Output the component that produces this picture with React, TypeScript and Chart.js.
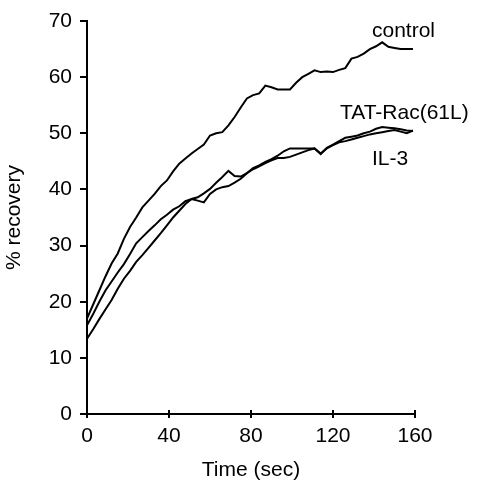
import React, { useEffect, useRef } from "react";
import { Chart, registerables } from "chart.js";

Chart.register(...registerables);

const times = [
  0, 3, 6, 9, 12, 15, 18, 21, 24, 27, 30, 33, 36, 39, 42, 45, 48, 51, 54, 57,
  60, 63, 66, 69, 72, 75, 78, 81, 84, 87, 90, 93, 96, 99, 102, 105, 108, 111,
  114, 117, 120, 123, 126, 129, 132, 135, 138, 141, 144, 147, 150, 153, 156, 159,
];

const control = [
  17.0, 19.5, 22.0, 24.5, 26.8, 28.6, 31.2, 33.3, 35.0, 36.8, 38.0, 39.2, 40.6,
  41.6, 43.2, 44.6, 45.5, 46.4, 47.2, 48.0, 49.6, 50.0, 50.2, 51.4, 52.9, 54.6,
  56.2, 56.8, 57.1, 58.5, 58.2, 57.8, 57.8, 57.8, 59.0, 60.0, 60.6, 61.2, 60.9,
  61.0, 60.9, 61.3, 61.6, 63.3, 63.6, 64.2, 65.0, 65.5, 66.2, 65.4, 65.2, 65.0,
  65.0, 65.0,
];

const tatRac = [
  15.8, 17.8, 20.0, 22.0, 23.6, 25.2, 26.7, 28.5, 30.4, 31.5, 32.6, 33.6, 34.7,
  35.5, 36.4, 37.0, 37.9, 38.3, 38.0, 37.7, 39.2, 40.0, 40.4, 40.6, 41.2, 41.9,
  42.9, 43.8, 44.3, 44.9, 45.4, 46.0, 46.8, 47.3, 47.3, 47.3, 47.3, 47.3, 46.3,
  47.4, 48.0, 48.6, 49.2, 49.4, 49.6, 50.0, 50.3, 50.8, 51.1, 51.0, 50.9, 50.7,
  50.5, 50.4,
];

const il3 = [
  13.4, 15.1, 16.9, 18.6, 20.3, 22.3, 24.1, 25.5, 27.1, 28.3, 29.6, 30.9, 32.2,
  33.6, 35.0, 36.2, 37.4, 38.3, 38.6, 39.3, 40.1, 41.2, 42.2, 43.3, 42.4, 42.3,
  42.9, 43.6, 44.1, 44.7, 45.2, 45.6, 45.6, 45.8, 46.2, 46.6, 47.0, 47.3, 46.4,
  47.3, 47.9, 48.4, 48.6, 48.9, 49.2, 49.5, 49.8, 50.0, 50.2, 50.4, 50.6, 50.3,
  50.0, 50.5,
];

const seriesNames = ["control", "TAT-Rac(61L)", "IL-3"];
// label anchor points in data units (time, % recovery)
const labelTimes = [139, 123.4, 139];
const labelValues = [67.1, 52.5, 44.3];

const xTicks = [0, 40, 80, 120, 160];
const yTicks = [0, 10, 20, 30, 40, 50, 60, 70];

const FONT = "'Liberation Sans', Arial, Helvetica, sans-serif";

export default function App() {
  const ref = useRef<HTMLCanvasElement | null>(null);

  useEffect(() => {
    document.body.style.margin = "0";
    const canvas = ref.current;
    if (!canvas) return;

    const labelPlugin = {
      id: "seriesLabels",
      afterDatasetsDraw(chart: any) {
        const { ctx, scales } = chart;
        ctx.save();
        ctx.fillStyle = "#000";
        ctx.font = `21px ${FONT}`;
        ctx.textAlign = "left";
        ctx.textBaseline = "alphabetic";
        seriesNames.forEach((name, i) => {
          const px = scales.x.getPixelForValue(labelTimes[i]);
          const py = scales.y.getPixelForValue(labelValues[i]);
          ctx.fillText(name, px, py);
        });
        // inner halves of x-axis tick marks
        const yb = scales.y.getPixelForValue(0);
        ctx.strokeStyle = "#000";
        ctx.lineWidth = 2;
        xTicks.forEach((t) => {
          const px = Math.round(scales.x.getPixelForValue(t));
          ctx.beginPath();
          ctx.moveTo(px, yb);
          ctx.lineTo(px, yb - 4);
          ctx.stroke();
        });
        ctx.restore();
      },
    };

    const mk = (vals: number[]) => times.map((t, i) => ({ x: t, y: vals[i] }));

    const chart = new Chart(canvas, {
      type: "line",
      data: {
        datasets: [control, tatRac, il3].map((vals, i) => ({
          label: seriesNames[i],
          data: mk(vals),
          borderColor: "#000",
          borderWidth: 2,
          pointRadius: 0,
          fill: false,
          tension: 0,
        })),
      },
      options: {
        animation: false,
        responsive: false,
        maintainAspectRatio: false,
        layout: { padding: { left: 0, right: 62, top: 21, bottom: 0 } },
        plugins: { legend: { display: false }, tooltip: { enabled: false } },
        scales: {
          x: {
            type: "linear",
            min: 0,
            max: 160,
            afterBuildTicks: (s: any) => {
              s.ticks = xTicks.map((v) => ({ value: v }));
            },
            afterFit: (s: any) => {
              s.height = 69;
            },
            ticks: {
              color: "#000",
              font: { family: FONT, size: 21 },
              padding: 6,
              maxRotation: 0,
            },
            grid: {
              drawOnChartArea: false,
              drawTicks: true,
              tickLength: 4,
              color: "#000",
              lineWidth: 2,
            },
            border: { color: "#000", width: 2 },
            title: {
              display: true,
              text: "Time (sec)",
              color: "#000",
              font: { family: FONT, size: 21 },
              padding: { top: 0, bottom: 0 },
            },
          },
          y: {
            type: "linear",
            min: 0,
            max: 70,
            afterBuildTicks: (s: any) => {
              s.ticks = yTicks.map((v) => ({ value: v }));
            },
            afterFit: (s: any) => {
              s.width = 87;
            },
            ticks: {
              color: "#000",
              font: { family: FONT, size: 21 },
              padding: 8,
            },
            grid: {
              drawOnChartArea: false,
              drawTicks: true,
              tickLength: 7,
              color: "#000",
              lineWidth: 2,
            },
            border: { color: "#000", width: 2 },
            title: {
              display: true,
              text: "% recovery",
              color: "#000",
              font: { family: FONT, size: 21 },
              padding: { top: 2, bottom: 0 },
            },
          },
        },
      },
      plugins: [labelPlugin],
    });

    return () => chart.destroy();
  }, []);

  return (
    <div style={{ position: "absolute", left: 0, top: 0, width: 477, height: 483 }}>
      <canvas ref={ref} width={477} height={483} style={{ width: 477, height: 483 }} />
    </div>
  );
}
